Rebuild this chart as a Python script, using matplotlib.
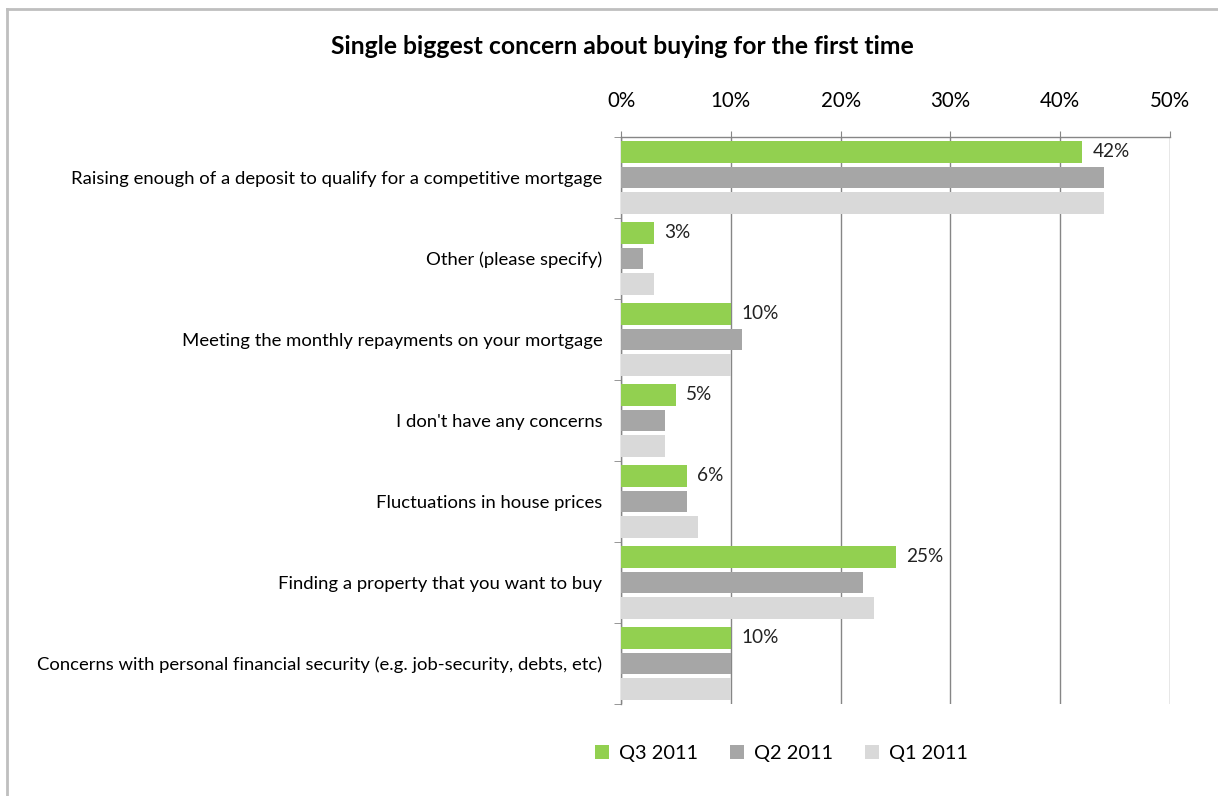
import numpy as np
import matplotlib.pyplot as plt
from matplotlib.lines import Line2D

plt.rcParams['font.family'] = ['Lato', 'DejaVu Sans']

categories = [
    "Raising enough of a deposit to qualify for a competitive mortgage",
    "Other (please specify)",
    "Meeting the monthly repayments on your mortgage",
    "I don't have any concerns",
    "Fluctuations in house prices",
    "Finding a property that you want to buy",
    "Concerns with personal financial security (e.g. job-security, debts, etc)",
]
q3_2011 = [42, 3, 10, 5, 6, 25, 10]
q2_2011 = [44, 2, 11, 4, 6, 22, 10]
q1_2011 = [44, 3, 10, 4, 7, 23, 10]
series_names = ["Q3 2011", "Q2 2011", "Q1 2011"]
colors = ["#92D050", "#A6A6A6", "#D9D9D9"]

W, H = 1218, 796
fig = plt.figure(figsize=(W / 100, H / 100), dpi=100)

# axes placed in pixel coords of the reference
left, right, top, bottom = 621, 1170, 137, 704
ax = fig.add_axes([left / W, 1 - bottom / H, (right - left) / W, (bottom - top) / H])

y = np.arange(len(categories))
step = 0.315
height = 0.265
for i, (vals, name, c) in enumerate(zip([q3_2011, q2_2011, q1_2011], series_names, colors)):
    bars = ax.barh(y + (i - 1) * step, vals, height=height, color=c, label=name, zorder=3)
    if i == 0:
        for b, v in zip(bars, vals):
            ax.text(b.get_width() + 0.95, b.get_y() + b.get_height() / 2, f"{v}%",
                    va="center", ha="left", fontsize=13.7, color="#222222")

ax.set_xlim(0, 50)
ax.set_ylim(len(categories) - 0.5, -0.5)
ax.xaxis.tick_top()
ax.set_xticks(np.arange(0, 51, 10))
ax.set_xticklabels([f"{t}%" for t in range(0, 51, 10)], fontsize=14.8)
ax.tick_params(axis="x", length=4, color="#868686", pad=15)
ax.grid(axis="x", color="#868686", linewidth=1, zorder=0)

ax.set_yticks(y)
ax.set_yticklabels(categories, fontsize=13.3)
ax.tick_params(axis="y", length=0, pad=13.5)
ax.set_yticks(np.arange(-0.5, len(categories), 1), minor=True)
ax.tick_params(axis="y", which="minor", length=5, color="#868686")

for s in ["right", "bottom"]:
    ax.spines[s].set_visible(False)
for s in ["top", "left"]:
    ax.spines[s].set_color("#868686")
    ax.spines[s].set_linewidth(1)

fig.text(622 / W, 1 - 47 / H, "Single biggest concern about buying for the first time",
         ha="center", va="center", fontsize=17.8, fontweight="bold")

ax.legend(loc="center", bbox_to_anchor=((781 - left) / (right - left), -(753 - bottom) / (bottom - top)),
          ncol=3, frameon=False, fontsize=14.4, handlelength=0.7, handleheight=0.7,
          handletextpad=0.5, columnspacing=1.6)

# outer chart border: only top and left edges show in the crop
bx, by = 7 / W, 1 - 9 / H
fig.add_artist(Line2D([bx, 1.0], [by, by], color="#BFBFBF", linewidth=2, transform=fig.transFigure))
fig.add_artist(Line2D([bx, bx], [0.0, by], color="#BFBFBF", linewidth=2, transform=fig.transFigure))

fig.savefig("out.png", dpi=100)
